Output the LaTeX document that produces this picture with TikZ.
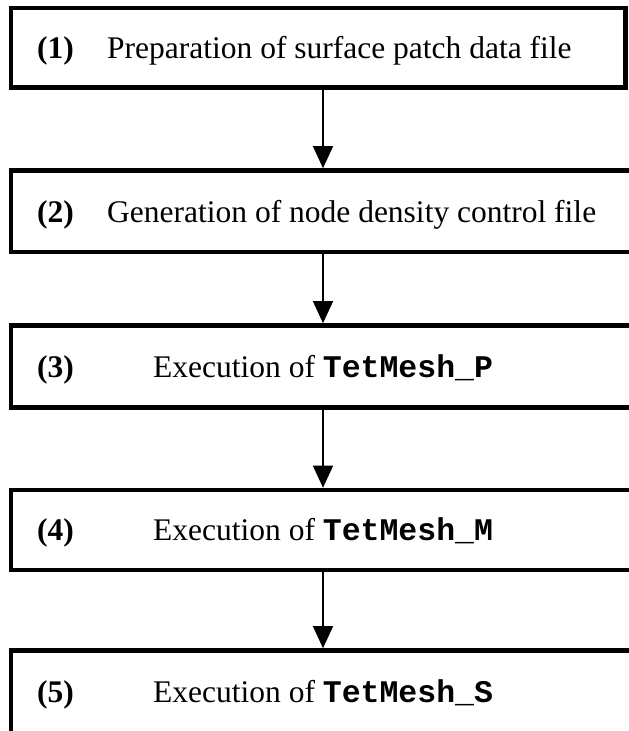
\documentclass[tikz,border=0pt]{standalone}
\usepackage{fontspec}
\setmainfont{Liberation Serif}
\setmonofont{Liberation Mono}
\usetikzlibrary{arrows.meta}
\begin{document}
\begin{tikzpicture}[x=1pt,y=1pt,
  box/.style={draw=black, line width=4.6pt, inner sep=0pt},
  txt/.style={anchor=base west, inner sep=0pt, font=\fontsize{31.5}{36}\selectfont},
  num/.style={txt, font=\fontsize{31.5}{36}\selectfont\bfseries},
  arr/.style={draw=black, line width=1.3pt, -{Triangle[width=20pt,length=22pt]}}]
\useasboundingbox (0,0) rectangle (629,-731);
\clip (0,0) rectangle (629,-731);
\fill[white] (0,0) rectangle (629,-731);
% boxes
\node[box, minimum width=614.5pt, minimum height=79.5pt] (b1) at (318.25,-47.75) {};
\node[box, minimum width=640pt, minimum height=81.5pt] (b2) at (331,-211.25) {};
\node[box, minimum width=640pt, minimum height=82pt] (b3) at (331,-366.5) {};
\node[box, minimum width=640pt, minimum height=80pt] (b4) at (331,-530) {};
\node[box, minimum width=640pt, minimum height=89.5pt] (b5) at (331,-695.25) {};
% texts
\node[num] (n1) at (37,-58.5) {(1)};
\node[txt] (t1) at (107,-58.5) {Preparation of surface patch data file};
\node[num] (n2) at (37,-222) {(2)};
\node[txt] (t2) at (107,-222) {Generation of node density control file};
\node[num] (n3) at (37,-377) {(3)};
\node[txt] (t3) at (153,-377) {Execution of \texttt{\bfseries TetMesh\_P}};
\node[num] (n4) at (37,-540.5) {(4)};
\node[txt] (t4) at (153,-540.5) {Execution of \texttt{\bfseries TetMesh\_M}};
\node[num] (n5) at (37,-702) {(5)};
\node[txt] (t5) at (153,-702) {Execution of \texttt{\bfseries TetMesh\_S}};
% connectors
\coordinate (ax) at (323,0);
\draw[arr] (b1.south -| ax) -- (b2.north -| ax);
\draw[arr] (b2.south -| ax) -- (b3.north -| ax);
\draw[arr] (b3.south -| ax) -- (b4.north -| ax);
\draw[arr] (b4.south -| ax) -- (b5.north -| ax);
\end{tikzpicture}
\end{document}
